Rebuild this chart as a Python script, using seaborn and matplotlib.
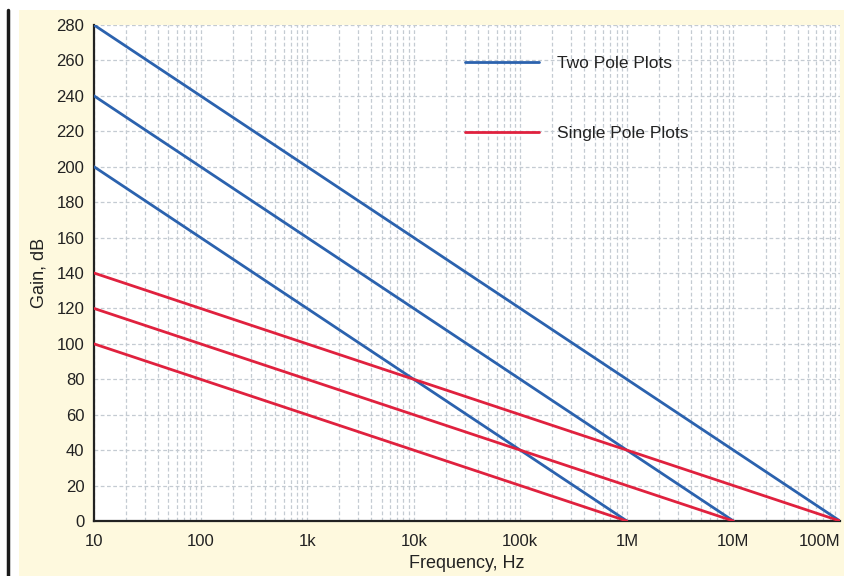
import matplotlib
matplotlib.use("Agg")
import matplotlib.pyplot as plt
import matplotlib.ticker as mticker
from matplotlib.lines import Line2D
from matplotlib.patches import Rectangle
import numpy as np
import pandas as pd
import seaborn as sns

# ---- data ----
start_freq = 10
two_pole_start_gain = [280, 240, 200]
two_pole_end_freq = [1e8, 1e7, 1e6]
single_pole_start_gain = [140, 120, 100]
single_pole_end_freq = [1e8, 1e7, 1e6]
x_tick_values = [10, 100, 1e3, 1e4, 1e5, 1e6, 1e7, 1e8]
x_tick_labels = ["10", "100", "1k", "10k", "100k", "1M", "10M", "100M"]
y_tick_values = list(range(0, 281, 20))
legend_labels = ["Two Pole Plots", "Single Pole Plots"]

BLUE = "#2B62AE"
RED = "#E0213E"

rows = []
for i, (g, f) in enumerate(zip(two_pole_start_gain, two_pole_end_freq)):
    rows += [dict(curve=f"two{i}", freq=start_freq, gain=g),
             dict(curve=f"two{i}", freq=f, gain=0)]
for i, (g, f) in enumerate(zip(single_pole_start_gain, single_pole_end_freq)):
    rows += [dict(curve=f"single{i}", freq=start_freq, gain=g),
             dict(curve=f"single{i}", freq=f, gain=0)]
df = pd.DataFrame(rows)
palette = {c: (BLUE if c.startswith("two") else RED) for c in df["curve"].unique()}

sns.set_style("white")
plt.rcParams["font.family"] = ["Liberation Sans Narrow", "Liberation Sans", "DejaVu Sans"]

fig = plt.figure(figsize=(8.44, 5.76), dpi=100)
fig.patch.set_facecolor("white")
fig.patches.append(Rectangle((19 / 844, 0), 1 - 19 / 844, 566 / 576, transform=fig.transFigure,
                             facecolor="#FEF9DE", edgecolor="none", zorder=-10))
fig.add_artist(Line2D([8 / 844, 8 / 844], [0, 566 / 576], transform=fig.transFigure,
                      color="#1a1a1a", lw=2.5, zorder=-5))

ax = fig.add_axes([94 / 844, 1 - 521 / 576, (840 - 94) / 844, (521 - 25) / 576])
ax.set_zorder(5)
ax.set_facecolor("white")

sns.lineplot(data=df, x="freq", y="gain", hue="curve", palette=palette,
             legend=False, ax=ax, lw=2.0, zorder=3)

ax.set_xscale("log")
ax.set_xlim(10, 1e8)
ax.set_ylim(0, 280)
ax.set_xticks(x_tick_values)
ax.set_xticklabels(x_tick_labels)
ax.xaxis.set_minor_locator(mticker.LogLocator(base=10, subs=np.arange(2, 10)))
ax.xaxis.set_minor_formatter(mticker.NullFormatter())
ax.set_yticks(y_tick_values)

grid_kw = dict(color="#C4CBD2", linestyle=(0, (3, 2)), linewidth=0.9)
ax.grid(True, which="major", axis="both", **grid_kw)
ax.grid(True, which="minor", axis="x", **grid_kw)
ax.set_axisbelow(True)

for s in ["top", "right"]:
    ax.spines[s].set_visible(False)
for s in ["left", "bottom"]:
    ax.spines[s].set_color("#222222")
    ax.spines[s].set_linewidth(1.6)

ax.tick_params(axis="both", which="major", direction="out", length=5, width=1.2,
               color="#222222", labelsize=12, labelcolor="#222222", pad=2)
ax.tick_params(axis="x", which="minor", direction="out", length=5, width=1.2, color="#222222")
ax.tick_params(axis="x", which="major", pad=4)
ax.get_xticklabels()[-1].set_horizontalalignment("right")

ax.set_xlabel("Frequency, Hz", fontsize=13, color="#222222", labelpad=5)
ax.set_ylabel("Gain, dB", fontsize=13, color="#222222", labelpad=6)

handles = [Line2D([], [], color=BLUE, lw=2.0), Line2D([], [], color=RED, lw=2.0)]
leg = ax.legend(handles, legend_labels, loc="upper left", bbox_to_anchor=(0.497, 0.938),
                frameon=False, fontsize=12.5, handlelength=4.3, handletextpad=1.0,
                labelspacing=3.15, borderpad=0, borderaxespad=0)
for t in leg.get_texts():
    t.set_color("#222222")

fig.savefig("out.png", dpi=100, facecolor=fig.get_facecolor())
